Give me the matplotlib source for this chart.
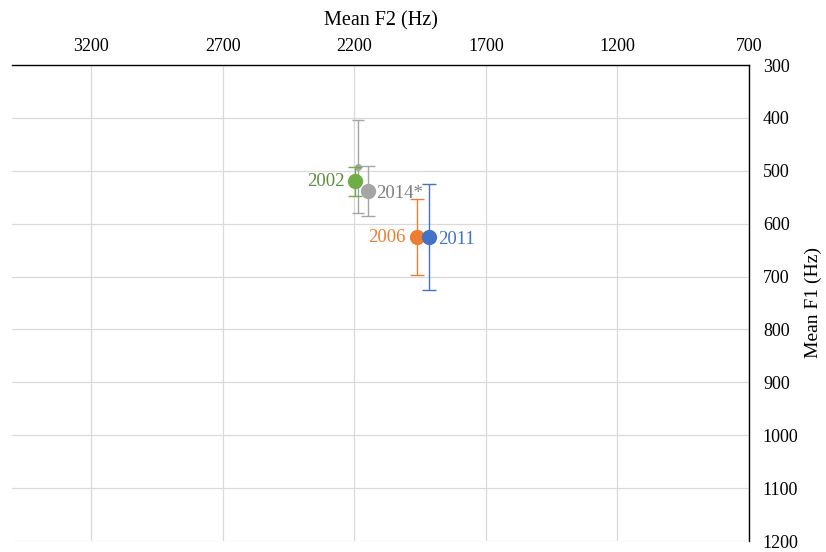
import matplotlib
matplotlib.use("Agg")
import matplotlib.pyplot as plt

plt.rcParams['font.family'] = ['Liberation Serif', 'DejaVu Serif']

labels = ["2002", "2014*", "2006", "2011"]
f2 = [2195, 2148, 1962, 1914]
f1 = [520, 538, 626, 625]
f1_err = [28, 47, 72, 100]
colors = ["#70AD47", "#A5A5A5", "#ED7D31", "#4472C4"]
label_colors = ["#5B8F3A", "#7F7F7F", "#ED7D31", "#4472C4"]
label_side = ["left", "right", "left", "right"]

# small extra gray point (2014 sub-series)
extra_f2 = [2184]
extra_f1 = [492]
extra_err = [88]

x_ticks = [3200, 2700, 2200, 1700, 1200, 700]
y_ticks = [300, 400, 500, 600, 700, 800, 900, 1000, 1100, 1200]

fig = plt.figure(figsize=(8.26, 5.52), dpi=100)
ax = fig.add_axes([12/826, 1-541/552, (749-12)/826, (541-65)/552])

ax.set_xlim(3500, 700)
ax.set_ylim(1200, 300)
ax.set_xticks(x_ticks)
ax.set_yticks(y_ticks)
ax.xaxis.tick_top()
ax.xaxis.set_label_position('top')
ax.yaxis.tick_right()
ax.yaxis.set_label_position('right')
ax.tick_params(length=0, labelsize=13)
ax.tick_params(axis='x', pad=7)
ax.tick_params(axis='y', pad=10)
ax.grid(True, color="#D9D9D9", linewidth=0.9)
ax.set_axisbelow(True)
for s in ['left', 'bottom']:
    ax.spines[s].set_visible(False)
for s in ['top', 'right']:
    ax.spines[s].set_color('black')
    ax.spines[s].set_linewidth(1.0)

ax.set_xlabel("Mean F2 (Hz)", fontsize=14.5, labelpad=9)
ax.set_ylabel("Mean F1 (Hz)", fontsize=14, labelpad=4)

ax.errorbar(extra_f2, extra_f1, yerr=extra_err, fmt='o', color="#A5A5A5",
            markersize=4, elinewidth=1, capsize=4, capthick=1, zorder=3)

for lab, x, y, e, c, lc, side in zip(labels, f2, f1, f1_err, colors, label_colors, label_side):
    ax.errorbar([x], [y], yerr=[e], fmt='o', color=c, markersize=10,
                elinewidth=1, capsize=5, capthick=1, zorder=4)
    if side == "left":
        ax.annotate(lab, (x, y), xytext=(-8, 0), textcoords='offset points',
                    ha='right', va='center', color=lc, fontsize=13.5)
    else:
        ax.annotate(lab, (x, y), xytext=(6, -2), textcoords='offset points',
                    ha='left', va='center', color=lc, fontsize=13.5)

fig.savefig("out.png", dpi=100)
